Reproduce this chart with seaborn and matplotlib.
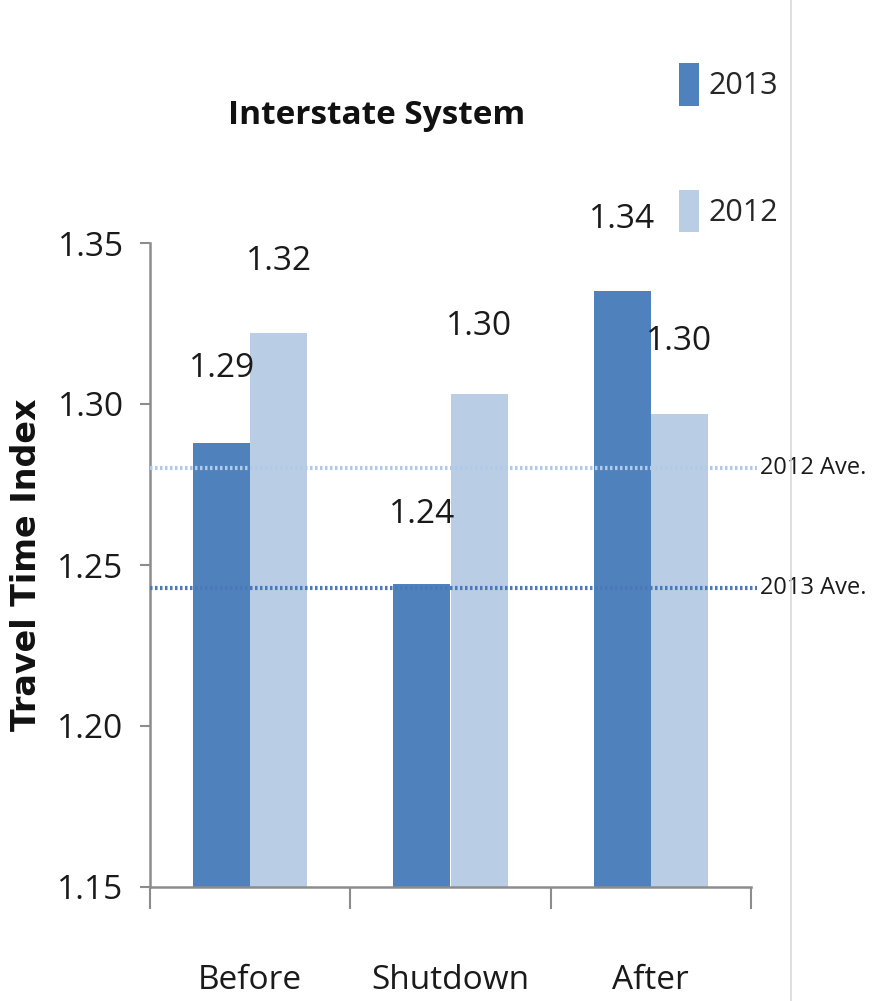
import matplotlib
matplotlib.use("Agg")
import matplotlib.pyplot as plt
from matplotlib.lines import Line2D
from matplotlib.ticker import MultipleLocator, FixedLocator, FormatStrFormatter
import seaborn as sns
import pandas as pd

# ---- data ----
periods = ["Before", "Shutdown", "After"]
series_names = ["2013", "2012"]
values_2013 = [1.288, 1.244, 1.335]
values_2012 = [1.322, 1.303, 1.297]
label_2013 = ["1.29", "1.24", "1.34"]
label_2012 = ["1.32", "1.30", "1.30"]
avg_names = ["2012 Ave.", "2013 Ave."]
avg_values = [1.280, 1.243]
title_text = "Interstate System"
ylabel_text = "Travel Time Index"

df = pd.DataFrame({
    "period": periods * 2,
    "year": [series_names[0]] * 3 + [series_names[1]] * 3,
    "tti": values_2013 + values_2012,
})

sns.set_style("white")
plt.rcParams["font.family"] = ["Open Sans", "DejaVu Sans"]

c2013 = "#4F81BD"
c2012 = "#B9CDE5"
avg_colors = ["#B0CBEA", "#4A78BA"]
txt = "#1a1a1a"

fig = plt.figure(figsize=(8.75, 10.01), dpi=100)
ax = fig.add_axes([150 / 875, 1 - 887 / 1001, 601 / 875, (887 - 243) / 1001])

sns.barplot(data=df, x="period", y="tti", hue="year", order=periods,
            hue_order=series_names, palette=[c2013, c2012], width=0.57,
            saturation=1, ax=ax, legend=True, errorbar=None, linewidth=0)

ax.set_ylim(1.15, 1.35)
ax.set_xlim(-0.5, 2.5)
ax.yaxis.set_major_locator(MultipleLocator(0.05))
ax.yaxis.set_major_formatter(FormatStrFormatter("%.2f"))

for s in ["top", "right"]:
    ax.spines[s].set_visible(False)
for s in ["left", "bottom"]:
    ax.spines[s].set_color("#8C8C8C")
    ax.spines[s].set_linewidth(1.8)

ax.tick_params(axis="y", which="major", left=True, length=7, width=1.5,
               color="#8C8C8C", labelsize=24, pad=12, labelcolor=txt)
ax.tick_params(axis="x", which="major", bottom=False, labelsize=24, pad=52,
               labelcolor=txt)
ax.xaxis.set_minor_locator(FixedLocator([-0.5, 0.5, 1.5, 2.5]))
ax.tick_params(axis="x", which="minor", bottom=True, length=16, width=1.5,
               color="#8C8C8C")
ax.set_xlabel("")
ax.set_ylabel(ylabel_text, family=["DejaVu Sans"], fontweight="bold",
              fontsize=24, va="center", color="#111111")
ax.yaxis.set_label_coords(-123 / 601, 0.5)

# average lines
for name, val, col in zip(avg_names, avg_values, avg_colors):
    ax.axhline(val, xmin=0, xmax=1.01, color=col, linewidth=3,
               linestyle=(0, (0.6, 0.6)), clip_on=False, zorder=5)
    ax.text(1.015, val, name, transform=ax.get_yaxis_transform(),
            ha="left", va="center", fontsize=17, color=txt)

# data labels
offsets_2013 = [74, 70, 72]
offsets_2012 = [72, 68, 72]
for cont, labels, offs in zip(ax.containers, [label_2013, label_2012],
                              [offsets_2013, offsets_2012]):
    for bar, lab, off in zip(cont, labels, offs):
        ax.annotate(lab, (bar.get_x() + bar.get_width() / 2, bar.get_height()),
                    xytext=(0, off), textcoords="offset pixels",
                    ha="center", va="center", fontsize=24, color=txt)

# legend
handles, labs = ax.get_legend_handles_labels()
ax.legend(handles, labs, loc="upper left", bbox_to_anchor=(664 / 875, 1 - 48 / 1001),
          bbox_transform=fig.transFigure, frameon=False, fontsize=22,
          handlelength=0.65, handleheight=1.75, handletextpad=0.3,
          labelspacing=2.75, borderpad=0)

fig.text(377 / 875, 1 - 115 / 1001, title_text, ha="center", va="center",
         fontsize=24, fontweight="bold", color="#111111")

fig.add_artist(Line2D([791 / 875, 791 / 875], [0, 1], transform=fig.transFigure,
                      color="#D9D9D9", linewidth=1.2))

fig.savefig("out.png", dpi=100)
